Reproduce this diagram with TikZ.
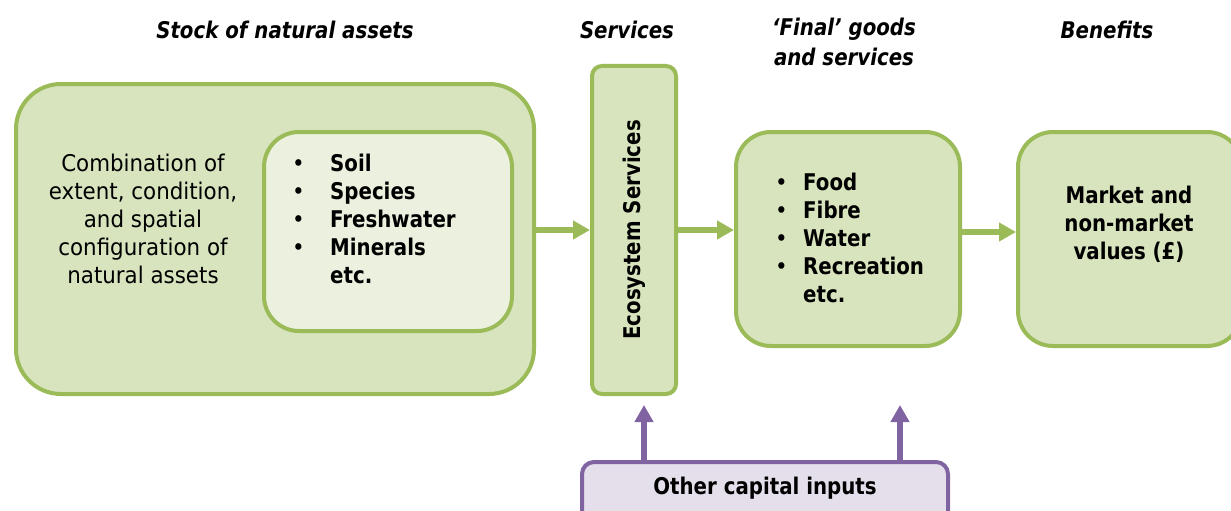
\documentclass[tikz,border=0pt]{standalone}
\usepackage{fontspec}
\setmainfont{DejaVu Sans}[FakeStretch=0.93,BoldFeatures={FakeStretch=0.86},BoldItalicFeatures={FakeStretch=0.86}]
\usetikzlibrary{arrows.meta}
\definecolor{gstroke}{HTML}{9BBB59}
\definecolor{gfill}{HTML}{D7E4BD}
\definecolor{gfilllight}{HTML}{EBF1DE}
\definecolor{pstroke}{HTML}{8064A2}
\definecolor{pfill}{HTML}{E5DFEC}
\tikzset{
  gbox/.style={draw=gstroke, fill=gfill, line width=4pt, inner sep=0pt},
  pbox/.style={draw=pstroke, fill=pfill, line width=4pt, inner sep=0pt, rounded corners=12pt},
  garrow/.style={draw=gstroke, line width=6pt, -{Triangle[length=17pt,width=18pt]}},
  parrow/.style={draw=pstroke, line width=6pt, -{Triangle[length=17pt,width=18pt]}},
  txt/.style={inner sep=0pt, font=\fontsize{23}{28}\selectfont},
  head/.style={inner sep=0pt, font=\fontsize{23}{29.5}\selectfont\bfseries\itshape, align=center},
}
\newcommand{\bul}[1]{\makebox[#1][l]{\mdseries •}}
\begin{document}
\begin{tikzpicture}[x=1pt,y=-1pt]
\useasboundingbox (0,0) rectangle (1231,511);
\clip (0,0) rectangle (1231,511);
% boxes
\node[gbox, rounded corners=45pt, minimum width=518pt, minimum height=310pt] (big) at (275,239) {};
\node[gbox, fill=gfilllight, rounded corners=35pt, minimum width=248pt, minimum height=199pt] (inner) at (388,231.5) {};
\node[gbox, rounded corners=10pt, minimum width=84pt, minimum height=328pt] (svc) at (634,230) {};
\node[gbox, rounded corners=35pt, minimum width=224pt, minimum height=214pt] (final) at (848,239) {};
\node[gbox, rounded corners=35pt, minimum width=224pt, minimum height=214pt] (ben) at (1130,239) {};
\node[pbox, minimum width=366pt, minimum height=80pt] (oc) at (765,502) {};
% headers
\node[head] (h1) at (285,30) {Stock of natural assets};
\node[head] (h2) at (627,30) {Services};
\node[head] (h3) at (844,42) {‘Final’ goods\\and services};
\node[head] (h4) at (1107,30) {Benefits};
% texts
\node[txt, align=center] (comb) at (143,219) {Combination of\\extent, condition,\\and spatial\\configuration of\\natural assets};
\node[txt, align=left, anchor=west, font=\fontsize{23}{28}\selectfont\bfseries] (list1) at (292,219)
  {\bul{38pt}Soil\\\bul{38pt}Species\\\bul{38pt}Freshwater\\\bul{38pt}Minerals\\\makebox[38pt]{}etc.};
\node[txt, rotate=90, font=\fontsize{23}{28}\selectfont\bfseries] (es) at (634,230) {Ecosystem Services};
\node[txt, align=left, anchor=west, font=\fontsize{23}{28}\selectfont\bfseries] (list2) at (775,238)
  {\bul{28pt}Food\\\bul{28pt}Fibre\\\bul{28pt}Water\\\bul{28pt}Recreation\\\makebox[28pt]{}etc.};
\node[txt, align=center, font=\fontsize{23}{28}\selectfont\bfseries] (val) at (1129,224) {Market and\\non-market\\values (£)};
\node[txt, font=\fontsize{23}{28}\selectfont\bfseries] (ocl) at (765,488) {Other capital inputs};
% arrows
\draw[garrow] (big.east |- svc.west) -- (svc.west);
\draw[garrow] (svc.east) -- (svc.east -| final.west);
\draw[garrow] ([yshift=7pt]final.east) -- ([yshift=7pt]ben.west);
\coordinate (t1) at (644,405);
\coordinate (t2) at (900,405);
\draw[parrow] (oc.north -| t1) -- (t1);
\draw[parrow] (oc.north -| t2) -- (t2);
\end{tikzpicture}
\end{document}
